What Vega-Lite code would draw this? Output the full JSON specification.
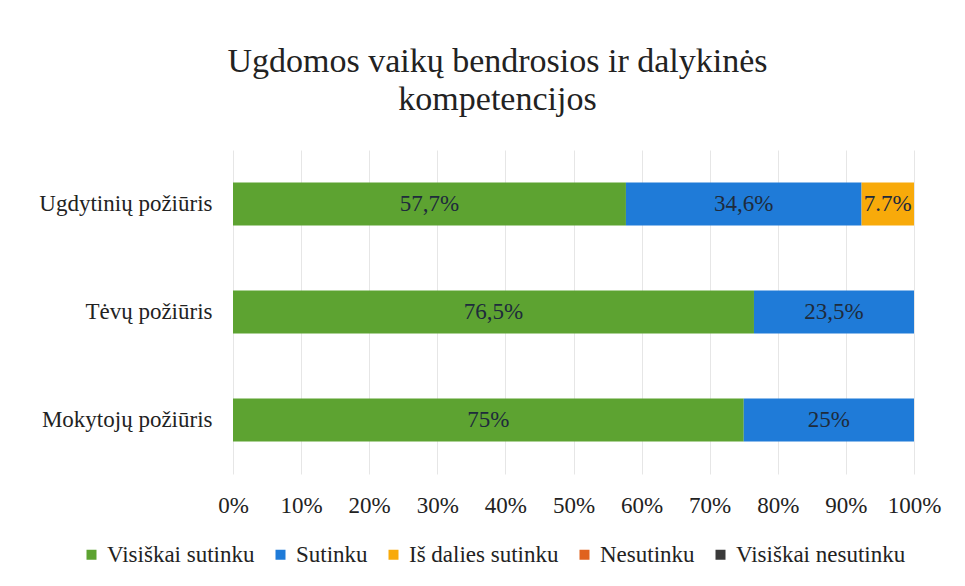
{
  "$schema": "https://vega.github.io/schema/vega-lite/v6.json",
  "width": 681,
  "height": 324,
  "autosize": "none",
  "padding": {"left": 233, "top": 150, "right": 51, "bottom": 112},
  "background": "white",
  "config": {"font": "Liberation Serif", "view": {"stroke": null}},
  "title": {
    "text": ["Ugdomos vaikų bendrosios ir dalykinės", "kompetencijos"],
    "fontSize": 34,
    "fontWeight": "normal",
    "anchor": "middle",
    "dx": -76,
    "offset": 33,
    "lineHeight": 38,
    "color": "#222222",
    "font": "Liberation Serif"
  },
  "data": {
    "values": [
      {"group": "Ugdytinių požiūris", "category": "Visiškai sutinku", "order": 1, "value": 57.7, "label": "57,7%"},
      {"group": "Ugdytinių požiūris", "category": "Sutinku", "order": 2, "value": 34.6, "label": "34,6%"},
      {"group": "Ugdytinių požiūris", "category": "Iš dalies sutinku", "order": 3, "value": 7.7, "label": "7.7%"},
      {"group": "Tėvų požiūris", "category": "Visiškai sutinku", "order": 1, "value": 76.5, "label": "76,5%"},
      {"group": "Tėvų požiūris", "category": "Sutinku", "order": 2, "value": 23.5, "label": "23,5%"},
      {"group": "Mokytojų požiūris", "category": "Visiškai sutinku", "order": 1, "value": 75, "label": "75%"},
      {"group": "Mokytojų požiūris", "category": "Sutinku", "order": 2, "value": 25, "label": "25%"}
    ]
  },
  "transform": [
    {"stack": "value", "groupby": ["group"], "sort": [{"field": "order", "order": "ascending"}], "as": ["v0", "v1"], "offset": "normalize"},
    {"calculate": "(datum.v0 + datum.v1) / 2", "as": "vmid"}
  ],
  "encoding": {
    "y": {
      "field": "group",
      "type": "nominal",
      "sort": null,
      "scale": {"paddingInner": 0.6, "paddingOuter": 0.3},
      "axis": {"title": null, "domain": false, "ticks": false, "labelFontSize": 23, "labelPadding": 21, "labelColor": "#222222", "labelFont": "Liberation Serif", "labelLimit": 300}
    }
  },
  "layer": [
    {
      "mark": {"type": "bar"},
      "encoding": {
        "x": {
          "field": "v0",
          "type": "quantitative",
          "scale": {"domain": [0, 1]},
          "axis": {"title": null, "format": ".0%", "values": [0,0.1,0.2,0.3,0.4,0.5,0.6,0.7,0.8,0.9,1], "domain": false, "ticks": false, "labelFontSize": 23, "labelPadding": 20, "labelColor": "#222222", "gridColor": "#e6e6e6", "labelFont": "Liberation Serif", "labelFlush": false, "labelOverlap": false}
        },
        "x2": {"field": "v1"},
        "color": {
          "field": "category",
          "type": "nominal",
          "scale": {
            "domain": ["Visiškai sutinku", "Sutinku", "Iš dalies sutinku", "Nesutinku", "Visiškai nesutinku"],
            "range": ["#5da331", "#1f7bd8", "#f8aa0a", "#e0621f", "#3a3a3a"]
          },
          "legend": {
            "title": null,
            "orient": "none",
            "legendX": -153,
            "legendY": 393,
            "direction": "horizontal",
            "columns": 5,
            "symbolType": "square",
            "symbolSize": 100,
            "symbolStrokeWidth": 0,
            "labelFontSize": 23,
            "labelFont": "Liberation Serif",
            "labelColor": "#222222",
            "labelOffset": 4,
            "columnPadding": 14,
            "labelLimit": 300
          }
        }
      }
    },
    {
      "mark": {"type": "text", "fontSize": 23, "color": "#1e2b3c", "font": "Liberation Serif"},
      "encoding": {
        "x": {"field": "vmid", "type": "quantitative"},
        "text": {"field": "label"}
      }
    }
  ]
}
